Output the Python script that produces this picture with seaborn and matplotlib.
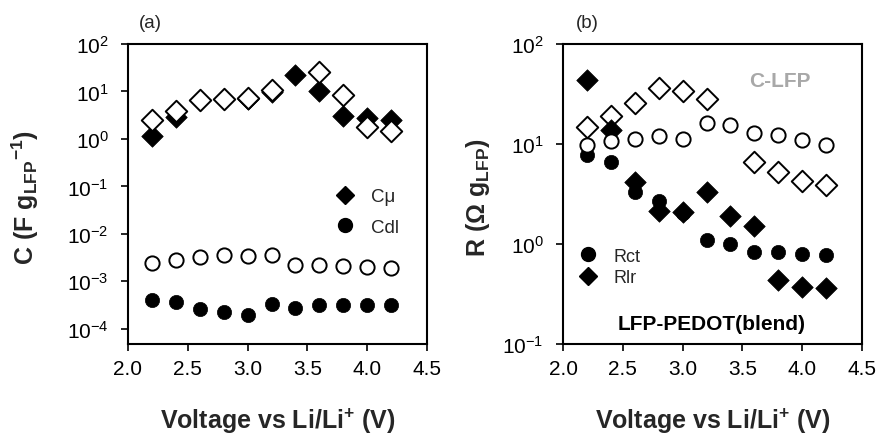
import numpy as np
import pandas as pd
import matplotlib
matplotlib.use("Agg")
import matplotlib.pyplot as plt
from matplotlib.lines import Line2D
import seaborn as sns

sns.set_theme(style="ticks")
plt.rcParams['font.family'] = ['Liberation Sans', 'DejaVu Sans']
plt.rcParams['mathtext.fontset'] = 'custom'
plt.rcParams['mathtext.rm'] = 'Liberation Sans'
plt.rcParams['mathtext.it'] = 'Liberation Sans:italic'
plt.rcParams['mathtext.bf'] = 'Liberation Sans:bold'
plt.rcParams['axes.unicode_minus'] = False

voltage = [2.2, 2.4, 2.6, 2.8, 3.0, 3.2, 3.4, 3.6, 3.8, 4.0, 4.2]

# Panel (a): capacitance
c_mu_blend = [1.14, 2.86, 6.6, 6.95, 7.0, 9.8, 22.6, 10.1, 3.0, 2.73, 2.55]
c_mu_clfp = [2.55, 3.8, 6.6, 7.0, 7.2, 10.8, np.nan, 26.1, 8.4, 1.76, 1.45]
c_dl_clfp = [2.42e-3, 2.88e-3, 3.23e-3, 3.61e-3, 3.39e-3, 3.6e-3, 2.26e-3, 2.26e-3, 2.08e-3, 1.99e-3, 1.92e-3]
c_dl_blend = [4.14e-4, 3.65e-4, 2.64e-4, 2.24e-4, 1.97e-4, 3.36e-4, 2.72e-4, 3.1e-4, 3.25e-4, 3.1e-4, 3.2e-4]

# Panel (b): resistance
r_lr_blend = [44, 13.9, 4.2, 2.15, 2.1, 3.3, 1.92, 1.5, 0.436, 0.374, 0.363]
r_ct_blend = [7.8, 6.56, 3.33, 2.67, 2.04, 1.1, 1.0, 0.83, 0.84, 0.79, 0.78]
r_lr_clfp = [14.7, 18.9, 25.7, 36.3, 33.6, 28.2, np.nan, 6.56, 5.2, 4.24, 3.89]
r_ct_clfp = [9.85, 10.8, 11.2, 12.1, 11.2, 16.2, 15.6, 12.9, 12.4, 11.0, 9.8]

xticks = [2.0, 2.5, 3.0, 3.5, 4.0, 4.5]
yticks_a = [-4, -3, -2, -1, 0, 1, 2]
yticks_b = [-1, 0, 1, 2]

W, H = 877, 435
fig = plt.figure(figsize=(W / 100, H / 100), dpi=100)
axA = fig.add_axes([128 / W, 1 - 345 / H, 299 / W, 300 / H])
axB = fig.add_axes([563 / W, 1 - 345 / H, 299 / W, 300 / H])

D_S = 120
O_S = 105
LW = 1.4
TICK_FS = 15
LAB_FS = 18


def pts(ax, y, marker, filled, s):
    df = pd.DataFrame({"V": voltage, "val": y}).dropna()
    sns.scatterplot(data=df, x="V", y="val", ax=ax, marker=marker, s=s,
                    color="black" if filled else "white",
                    edgecolor="black", linewidth=LW if not filled else 0.5,
                    zorder=3, legend=False)


# panel a
pts(axA, c_mu_blend, "D", True, D_S)
pts(axA, c_mu_clfp, "D", False, D_S)
pts(axA, c_dl_clfp, "o", False, O_S)
pts(axA, c_dl_blend, "o", True, O_S)

# panel b
pts(axB, r_lr_clfp, "D", False, D_S)
pts(axB, r_lr_blend, "D", True, D_S)
pts(axB, r_ct_blend, "o", True, O_S)
pts(axB, r_ct_clfp, "o", False, O_S)

for ax in (axA, axB):
    ax.set_yscale("log")
    ax.set_xlim(2.0, 4.5)
    ax.set_xticks(xticks)
    ax.set_xticklabels([f"{t:.1f}" for t in xticks])
    ax.minorticks_off()
    ax.tick_params(axis="both", which="major", direction="out", length=5, width=1.2,
                   labelsize=TICK_FS, colors="black", pad=9)
    ax.tick_params(axis="x", pad=6)
    for sp in ax.spines.values():
        sp.set_visible(True)
        sp.set_linewidth(1.5)
        sp.set_color("black")
    ax.set_xlabel("Voltage vs Li/Li$^{\\mathbf{+}}$ (V)", fontsize=LAB_FS, fontweight="bold")
    ax.xaxis.set_label_coords(0.5, -0.205)

axA.set_ylim(10 ** -4.32, 1e2)
axA.set_yticks([10.0 ** e for e in yticks_a])
axA.set_yticklabels([f"$10^{{{e}}}$" for e in yticks_a])
axA.set_ylabel("C (F g$_{\\mathbf{LFP}}$$^{\\mathbf{-1}}$)", fontsize=LAB_FS, fontweight="bold")
axA.yaxis.set_label_coords(-0.29, 0.49)
axB.set_ylim(1e-1, 1e2)
axB.set_yticks([10.0 ** e for e in yticks_b])
axB.set_yticklabels([f"$10^{{{e}}}$" for e in yticks_b])
axB.set_ylabel("R (\u03a9 g$_{\\mathbf{LFP}}$)", fontsize=LAB_FS, fontweight="bold")
axB.yaxis.set_label_coords(-0.237, 0.49)
axA.minorticks_off()
axB.minorticks_off()

# legends
hA = [Line2D([], [], marker="D", color="black", linestyle="none", markersize=9),
      Line2D([], [], marker="o", color="black", linestyle="none", markersize=10)]
legA = axA.legend(hA, ["C\u03bc", "Cdl"], loc="upper left", bbox_to_anchor=(0.67, 0.545),
                  frameon=False, fontsize=13.5, labelspacing=0.72, handletextpad=0.9,
                  handlelength=1.0, borderaxespad=0)

hB = [Line2D([], [], marker="o", color="black", linestyle="none", markersize=10),
      Line2D([], [], marker="D", color="black", linestyle="none", markersize=9)]
legB = axB.legend(hB, ["Rct", "Rlr"], loc="upper left", bbox_to_anchor=(0.03, 0.345),
                  frameon=False, fontsize=13, labelspacing=0.25, handletextpad=0.9,
                  handlelength=1.0, borderaxespad=0)

axB.text(0.726, 0.877, "C-LFP", transform=axB.transAxes, ha="center", va="center",
         fontsize=15, fontweight="bold", color="#a8a8a8")
axB.text(0.498, 0.067, "LFP-PEDOT(blend)", transform=axB.transAxes, ha="center", va="center",
         fontsize=15, fontweight="bold", color="black")

fig.text(150 / W, 1 - 24 / H, "(a)", ha="center", va="center", fontsize=13.5)
fig.text(587 / W, 1 - 24 / H, "(b)", ha="center", va="center", fontsize=13.5)

fig.savefig("out.png", dpi=100)
